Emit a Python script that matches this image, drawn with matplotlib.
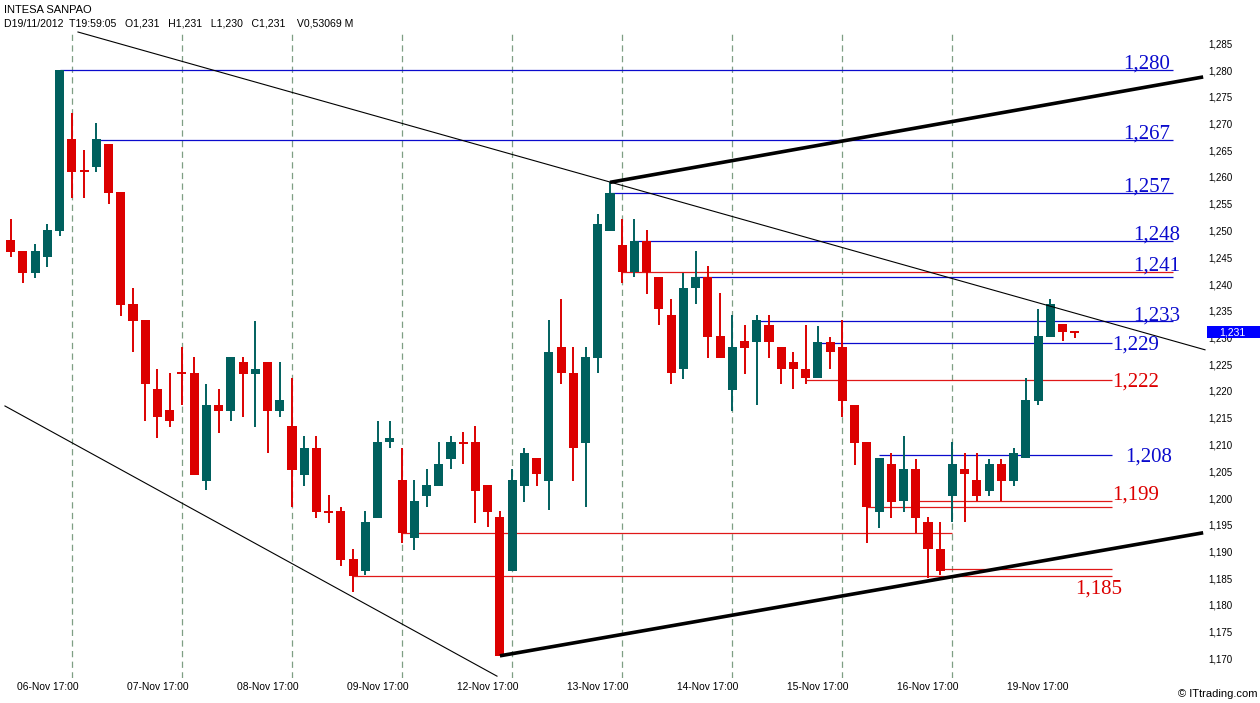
import matplotlib
matplotlib.use("Agg")
import matplotlib.pyplot as plt
import matplotlib.transforms as mtransforms
from matplotlib.patches import Rectangle

# hourly bars: 06-Nov from 12:00, then 09:00..17:00 each day, 19-Nov has one bar after 17:00
days = ["06-Nov", "07-Nov", "08-Nov", "09-Nov", "12-Nov", "13-Nov",
        "14-Nov", "15-Nov", "16-Nov", "19-Nov"]
first_day_hours = [12, 13, 14, 15, 16, 17]
day_hours = [9, 10, 11, 12, 13, 14, 15, 16, 17]
last_day_hours = [9, 10, 11, 12, 13, 14, 15, 16, 17, 18]

opens = [1.2482, 1.2462, 1.2421, 1.2451, 1.2500, 1.2671, 1.2611, 1.2619, 1.2662, 1.2572,
         1.2363, 1.2333, 1.2204, 1.2164, 1.2233, 1.2233, 1.2032, 1.2174, 1.2163, 1.2254,
         1.2232, 1.2254, 1.2163, 1.2135, 1.2043, 1.2094, 1.1974, 1.1976, 1.1886, 1.1864,
         1.1963, 1.2104, 1.2033, 1.1925, 1.2004, 1.2023, 1.2073, 1.2103, 1.2105, 1.2024,
         1.1965, 1.1864, 1.2023, 1.2074, 1.2032, 1.2282, 1.2233, 1.2103, 1.2262, 1.2500,
         1.2473, 1.2423, 1.2481, 1.2413, 1.2342, 1.2241, 1.2392, 1.2413, 1.2303, 1.2202,
         1.2293, 1.2292, 1.2323, 1.2283, 1.2254, 1.2242, 1.2224, 1.2292, 1.2283, 1.2174,
         1.2104, 1.1974, 1.2064, 1.1995, 1.2054, 1.1955, 1.1904, 1.2004, 1.2054, 1.2034,
         1.2014, 1.2064, 1.2032, 1.2074, 1.2182, 1.2301, 1.2325, 1.2310]
highs = [1.2521, 1.2462, 1.2474, 1.2512, 1.2800, 1.2720, 1.2650, 1.2701, 1.2662, 1.2572,
         1.2392, 1.2333, 1.2242, 1.2233, 1.2283, 1.2264, 1.2214, 1.2203, 1.2264, 1.2264,
         1.2331, 1.2254, 1.2254, 1.2224, 1.2115, 1.2115, 1.2006, 1.1984, 1.1904, 1.1976,
         1.2144, 1.2144, 1.2093, 1.2034, 1.2054, 1.2105, 1.2115, 1.2123, 1.2135, 1.2024,
         1.1976, 1.2054, 1.2093, 1.2074, 1.2333, 1.2372, 1.2282, 1.2283, 1.2531, 1.2590,
         1.2521, 1.2521, 1.2501, 1.2413, 1.2372, 1.2421, 1.2462, 1.2434, 1.2384, 1.2342,
         1.2323, 1.2342, 1.2342, 1.2283, 1.2272, 1.2323, 1.2322, 1.2301, 1.2333, 1.2174,
         1.2104, 1.2074, 1.2084, 1.2115, 1.2073, 1.1964, 1.1955, 1.2104, 1.2084, 1.2084,
         1.2073, 1.2073, 1.2093, 1.2224, 1.2353, 1.2372, 1.2325, 1.2310]
lows = [1.2451, 1.2401, 1.2412, 1.2431, 1.2490, 1.2560, 1.2560, 1.2610, 1.2550, 1.2340,
        1.2272, 1.2143, 1.2113, 1.2133, 1.2173, 1.2043, 1.2015, 1.2122, 1.2143, 1.2152,
        1.2133, 1.2084, 1.2152, 1.1984, 1.2023, 1.1963, 1.1954, 1.1873, 1.1825, 1.1856,
        1.1963, 1.2093, 1.1915, 1.1903, 1.1984, 1.2023, 1.2054, 1.2063, 1.1954, 1.1945,
        1.1705, 1.1864, 1.1993, 1.2023, 1.1978, 1.2213, 1.2032, 1.1984, 1.2233, 1.2500,
        1.2401, 1.2413, 1.2381, 1.2323, 1.2213, 1.2222, 1.2362, 1.2262, 1.2262, 1.2163,
        1.2232, 1.2173, 1.2262, 1.2213, 1.2203, 1.2213, 1.2224, 1.2242, 1.2152, 1.2062,
        1.1915, 1.1943, 1.1963, 1.1974, 1.1934, 1.1850, 1.1856, 1.1956, 1.1955, 1.1995,
        1.2004, 1.1994, 1.2023, 1.2074, 1.2173, 1.2301, 1.2294, 1.2300]
closes = [1.2460, 1.2421, 1.2462, 1.2501, 1.2800, 1.2610, 1.2611, 1.2671, 1.2571, 1.2361,
          1.2331, 1.2213, 1.2152, 1.2143, 1.2233, 1.2043, 1.2174, 1.2163, 1.2264, 1.2232,
          1.2242, 1.2163, 1.2183, 1.2052, 1.2094, 1.1974, 1.1974, 1.1885, 1.1855, 1.1956,
          1.2104, 1.2113, 1.1935, 1.1994, 1.2024, 1.2064, 1.2105, 1.2103, 1.2014, 1.1974,
          1.1705, 1.2034, 1.2085, 1.2044, 1.2272, 1.2233, 1.2093, 1.2263, 1.2512, 1.2571,
          1.2422, 1.2481, 1.2423, 1.2353, 1.2233, 1.2392, 1.2413, 1.2301, 1.2262, 1.2283,
          1.2281, 1.2333, 1.2292, 1.2242, 1.2242, 1.2224, 1.2292, 1.2272, 1.2182, 1.2103,
          1.1984, 1.2074, 1.1993, 1.2054, 1.1963, 1.1904, 1.1864, 1.2063, 1.2044, 1.2004,
          1.2064, 1.2032, 1.2084, 1.2183, 1.2303, 1.2363, 1.2311, 1.2310]

# support / resistance levels drawn on the chart
level_prices = [1.280, 1.267, 1.257, 1.248, 1.2422, 1.2413, 1.233, 1.229, 1.222,
                1.208, 1.1994, 1.1984, 1.1934, 1.1867, 1.1855]
level_start_bar = [4, 7, 49, 51, 50, 56, 61, 66, 65, 71, 74, 70, 32, 76, 28]
level_kind = ["res", "res", "res", "res", "sup", "res", "res", "res", "sup",
              "res", "sup", "sup", "sup", "sup", "sup"]
level_end = ["long", "long", "long", "long", "long", "long", "long", "short", "short",
             "short", "short", "short", "mid", "short", "short"]

label_texts = ["1,280", "1,267", "1,257", "1,248", "1,241", "1,233",
               "1,229", "1,222", "1,208", "1,199", "1,185"]
label_prices = [1.280, 1.267, 1.257, 1.248, 1.2422, 1.233,
                1.229, 1.222, 1.208, 1.1994, 1.1855]
label_kind = ["res", "res", "res", "res", "res", "res",
              "res", "sup", "res", "sup", "sup"]

# trendlines as (bar, price) anchors
trend_thin = [((5.5, 1.2871), (97.65, 1.2277)),
              ((-0.47, 1.2172), (39.76, 1.1667))]
trend_thick = [((40, 1.1705), (97.5, 1.1935)),
               ((49, 1.2590), (97.5, 1.2787))]

last_price = 1.231

GREEN = "#00605e"
RED = "#dc0000"
BLUE = "#0a0acd"
LRED = "#e01818"
GRID = "#7f9f84"

# build bar times
bar_times = [(days[0], h) for h in first_day_hours]
for d in days[1:-1]:
    bar_times += [(d, h) for h in day_hours]
bar_times += [(days[-1], h) for h in last_day_hours]
n = len(bar_times)
close_bars = [i for i, (d, h) in enumerate(bar_times) if h == 17]

fig = plt.figure(figsize=(12.6, 7.03), dpi=100)
ax = fig.add_axes([0.0, 1 - 678 / 703, 1205 / 1260, (678 - 30) / 703])
ax.set_xlim(-0.875, 97.65)
ax.set_ylim(1.280 - 608 / 5350, 1.280 + 40 / 5350)
for s in ax.spines.values():
    s.set_visible(False)

# vertical session markers (not for the last day)
for i in close_bars[:-1]:
    ax.axvline(i, color=GRID, lw=0.9, dashes=(5, 3.5), zorder=1)

# level lines
end_x = {"long": 95.04, "short": 90.05, "mid": 77.0}
for p, s, k, e in zip(level_prices, level_start_bar, level_kind, level_end):
    ax.hlines(p, s, end_x[e], color=BLUE if k == "res" else LRED, lw=0.9, zorder=2)

# candles
w = 0.74
for i in range(n):
    o, h, l, c = opens[i], highs[i], lows[i], closes[i]
    col = GREEN if c > o else RED
    ax.vlines(i, l, h, color=col, lw=1.4, zorder=3)
    if abs(c - o) < 1e-6:
        ax.hlines(o, i - w / 2, i + w / 2, color=col, lw=1.4, zorder=4)
    else:
        ax.bar(i, abs(c - o), bottom=min(o, c), width=w, color=col, lw=0, zorder=4)

# trendlines
for (x0, y0), (x1, y1) in trend_thin:
    ax.plot([x0, x1], [y0, y1], color="black", lw=0.8, zorder=5, clip_on=False)
for (x0, y0), (x1, y1) in trend_thick:
    ax.plot([x0, x1], [y0, y1], color="black", lw=2.6, zorder=5,
            solid_capstyle="butt", clip_on=False)

# level labels
label_pos = {"1,280": (94.8, "right", "above"), "1,267": (94.8, "right", "above"),
             "1,257": (94.8, "right", "above"), "1,248": (95.6, "right", "above"),
             "1,241": (95.6, "right", "above"), "1,233": (95.6, "right", "above"),
             "1,229": (90.1, "left", "center"), "1,222": (90.1, "left", "center"),
             "1,208": (91.1, "left", "center"), "1,199": (90.1, "left", "above"),
             "1,185": (87.0, "left", "below")}
for t, p, k in zip(label_texts, label_prices, label_kind):
    x, ha, where = label_pos[t]
    va, dy = {"above": ("baseline", 1.0), "center": ("center", -1.5),
              "below": ("top", -2.5)}[where]
    ax.annotate(t, (x, p), xytext=(0, dy), textcoords="offset points", ha=ha, va=va,
                color=BLUE if k == "res" else RED, fontsize=15,
                family="Liberation Serif", zorder=6)

# price axis on the right
yt = [1.170 + 0.005 * k for k in range(24)]
ax.yaxis.tick_right()
ax.set_yticks(yt)
ax.set_yticklabels([f"{v:.3f}".replace(".", ",") for v in yt])
ax.tick_params(axis="y", length=0, pad=2.2, labelsize=7)

# date axis
ax.set_xticks([i - 2 for i in close_bars])
ax.set_xticklabels([f"{d} 17:00" for d, h in bar_times if h == 17])
ax.tick_params(axis="x", length=0, pad=3, labelsize=7.4)
for lab in ax.get_xticklabels() + ax.get_yticklabels():
    lab.set_family("Liberation Sans")

# last price box
tr = mtransforms.blended_transform_factory(ax.transAxes, ax.transData)
ax.add_patch(Rectangle((1207 / 1205, last_price - 6 / 5350), 53 / 1205, 12 / 5350,
                       transform=tr, facecolor="#0000ff", edgecolor="none",
                       clip_on=False, zorder=10))
ax.text(1232.5 / 1205, last_price, f"{last_price:.3f}".replace(".", ","), transform=tr,
        ha="center", va="center", color="white", fontsize=7.5,
        family="Liberation Sans", zorder=11, clip_on=False)

# header
fig.text(4 / 1260, 1 - 10 / 703, "INTESA SANPAO", fontsize=8, family="Liberation Sans",
         va="center", ha="left")
fig.text(4 / 1260, 1 - 23 / 703,
         "D19/11/2012  T19:59:05   O1,231   H1,231   L1,230   C1,231    V0,53069 M",
         fontsize=7.6, family="Liberation Sans", va="center", ha="left")
fig.text(1258 / 1260, 1 - 694 / 703, "\u00a9 ITtrading.com", fontsize=8,
         family="Liberation Sans", va="center", ha="right")

fig.savefig("out.png", dpi=100, facecolor="white")
